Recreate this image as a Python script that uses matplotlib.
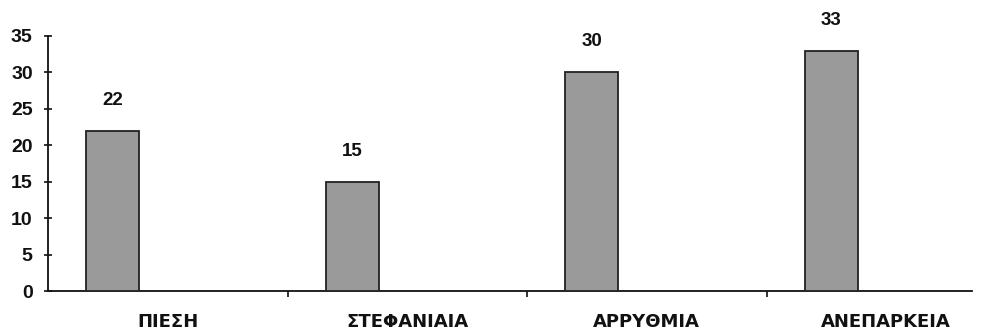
import matplotlib.pyplot as plt
import numpy as np

# data
categories = ["ΠΙΕΣΗ", "ΣΤΕΦΑΝΙΑΙΑ", "ΑΡΡΥΘΜΙΑ", "ΑΝΕΠΑΡΚΕΙΑ"]
values = [22, 15, 30, 33]
yticks = [0, 5, 10, 15, 20, 25, 30, 35]

plt.rcParams["font.family"] = ["Liberation Sans", "DejaVu Sans"]
plt.rcParams["font.weight"] = "bold"

fig = plt.figure(figsize=(9.99, 3.34), dpi=100)
# axes: x 48..972 px, y from 291 (value 0) to 36 (value 35)
ax = fig.add_axes([48 / 999, 43 / 334, 924 / 999, 255 / 334])

x = np.arange(len(categories))
bar_off = -0.23
bar_w = 0.22
bars = ax.bar(x + bar_off, values, width=bar_w, color="#9a9a9a",
              edgecolor="#222222", linewidth=1.3, zorder=3)

for xi, v in zip(x, values):
    ax.annotate(str(v), (xi + bar_off, v), xytext=(0, 22),
                textcoords="offset points", ha="center", va="center",
                fontsize=13.5, fontweight="bold", color="#111111")

ax.set_xlim(-0.5, -0.5 + 924 / 239.5)
ax.set_ylim(0, 35)
ax.set_yticks(yticks)
ax.set_yticklabels([str(t) for t in yticks], fontsize=14, fontweight="bold")
ax.tick_params(axis="y", direction="inout", length=6, width=1.2, pad=8,
               colors="#111111")

ax.set_xticks(x)
ax.set_xticklabels(categories, fontsize=13, fontweight="bold",
                   family=["DejaVu Sans"])
ax.tick_params(axis="x", which="major", length=0, pad=16, colors="#111111")
ax.set_xticks(x[:-1] + 0.5, minor=True)
ax.tick_params(axis="x", which="minor", direction="out", length=4, width=1.2,
               colors="#111111")

for s in ["top", "right"]:
    ax.spines[s].set_visible(False)
ax.spines["left"].set_linewidth(1.3)
ax.spines["bottom"].set_linewidth(1.3)
ax.spines["left"].set_color("#111111")
ax.spines["bottom"].set_color("#111111")

fig.savefig("out.png", dpi=100)
